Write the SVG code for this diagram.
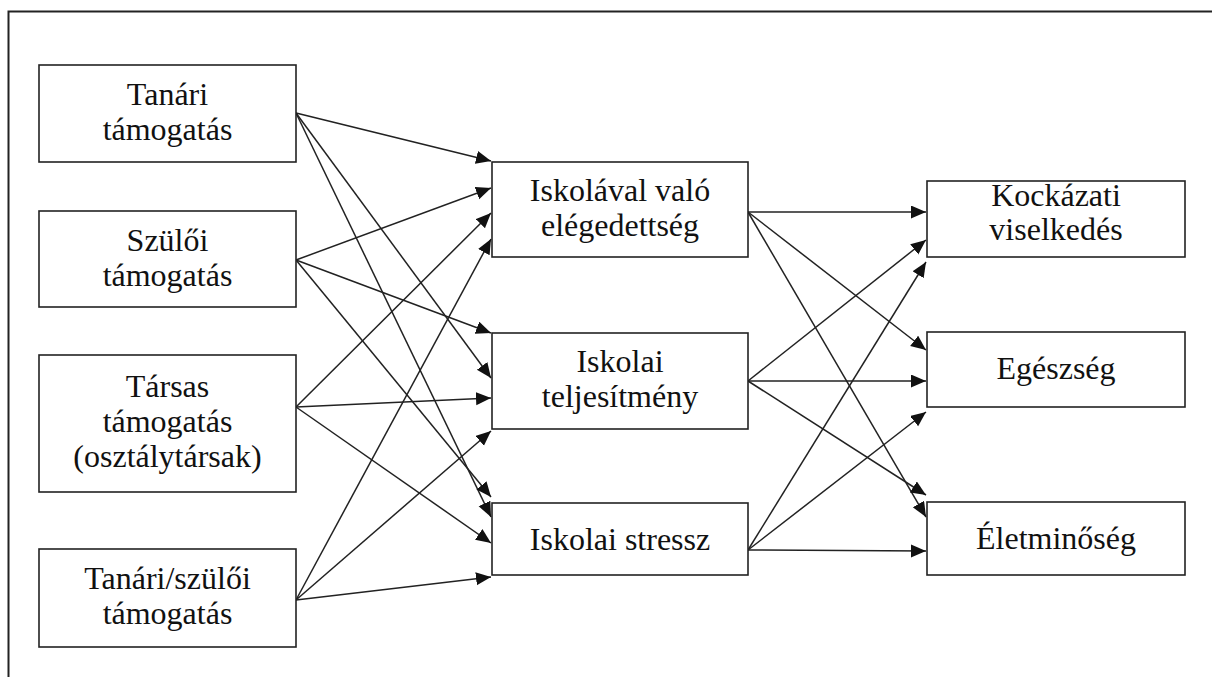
<svg xmlns="http://www.w3.org/2000/svg" width="1212" height="677" viewBox="0 0 1212 677">
  <defs>
    <marker id="arrow" markerUnits="userSpaceOnUse" markerWidth="16" markerHeight="14" refX="15" refY="6.5" orient="auto">
      <path d="M0,0 L15,6.5 L0,13 z" fill="#111"/>
    </marker>
    <style>
      .frame { fill: none; stroke: #222; stroke-width: 2; }
      .box { fill: #fff; stroke: #222; stroke-width: 1.6; }
      .lbl { font-size: 32px; fill: #111; text-anchor: middle; }
      .conn line { stroke: #222; stroke-width: 1.5; marker-end: url(#arrow); }
    </style>
  </defs>
  <rect width="1212" height="677" fill="#fff"/>
  <!-- outer border, only top and left edges fall inside the canvas -->
  <path class="frame" d="M8.5,690 V11.5 H1220"/>

  <g id="connectors" class="conn">
    <!-- support sources to school outcomes -->
    <line x1="296" y1="113" x2="491" y2="161"/>
    <line x1="296" y1="113" x2="491" y2="378"/>
    <line x1="296" y1="113" x2="491" y2="517"/>
    <line x1="296" y1="260" x2="491" y2="188"/>
    <line x1="296" y1="260" x2="491" y2="333"/>
    <line x1="296" y1="260" x2="491" y2="497"/>
    <line x1="296" y1="407" x2="491" y2="213"/>
    <line x1="296" y1="407" x2="491" y2="398"/>
    <line x1="296" y1="407" x2="491" y2="543"/>
    <line x1="296" y1="600" x2="491" y2="239"/>
    <line x1="296" y1="600" x2="491" y2="431"/>
    <line x1="296" y1="600" x2="491" y2="577"/>
    <!-- school outcomes to health outcomes -->
    <line x1="748" y1="212" x2="926" y2="212"/>
    <line x1="748" y1="212" x2="926" y2="350"/>
    <line x1="748" y1="212" x2="926" y2="517"/>
    <line x1="748" y1="381" x2="926" y2="240"/>
    <line x1="748" y1="381" x2="926" y2="381"/>
    <line x1="748" y1="381" x2="926" y2="495"/>
    <line x1="748" y1="550" x2="926" y2="262"/>
    <line x1="748" y1="550" x2="926" y2="412"/>
    <line x1="748" y1="550" x2="926" y2="551"/>
  </g>

  <g font-family="'Liberation Serif', 'Times New Roman', 'DejaVu Serif', serif">
    <g id="tanari">
      <rect class="box" x="39" y="65" width="257" height="97"/>
      <text class="lbl" x="167.5" y="105">Tanári</text>
      <text class="lbl" x="167.5" y="140">támogatás</text>
    </g>
    <g id="szuloi">
      <rect class="box" x="39" y="211" width="257" height="96"/>
      <text class="lbl" x="167.5" y="251">Szülői</text>
      <text class="lbl" x="167.5" y="286">támogatás</text>
    </g>
    <g id="tarsas">
      <rect class="box" x="39" y="355" width="257" height="137"/>
      <text class="lbl" x="167.5" y="397">Társas</text>
      <text class="lbl" x="167.5" y="432">támogatás</text>
      <text class="lbl" x="167.5" y="467">(osztálytársak)</text>
    </g>
    <g id="tanari-szuloi">
      <rect class="box" x="39" y="549" width="257" height="98"/>
      <text class="lbl" x="167.5" y="589">Tanári/szülői</text>
      <text class="lbl" x="167.5" y="624">támogatás</text>
    </g>

    <g id="elegedettseg">
      <rect class="box" x="492" y="162" width="256" height="95"/>
      <text class="lbl" x="620" y="201">Iskolával való</text>
      <text class="lbl" x="620" y="236">elégedettség</text>
    </g>
    <g id="teljesitmeny">
      <rect class="box" x="492" y="333" width="256" height="96"/>
      <text class="lbl" x="620" y="372">Iskolai</text>
      <text class="lbl" x="620" y="407">teljesítmény</text>
    </g>
    <g id="stressz">
      <rect class="box" x="492" y="503" width="256" height="72"/>
      <text class="lbl" x="620" y="550">Iskolai stressz</text>
    </g>

    <g id="kockazati">
      <rect class="box" x="927" y="181" width="258" height="76"/>
      <text class="lbl" x="1056" y="206">Kockázati</text>
      <text class="lbl" x="1056" y="240">viselkedés</text>
    </g>
    <g id="egeszseg">
      <rect class="box" x="927" y="332" width="258" height="75"/>
      <text class="lbl" x="1056" y="379">Egészség</text>
    </g>
    <g id="eletminoseg">
      <rect class="box" x="927" y="502" width="258" height="73"/>
      <text class="lbl" x="1056" y="549">Életminőség</text>
    </g>
  </g>
</svg>
